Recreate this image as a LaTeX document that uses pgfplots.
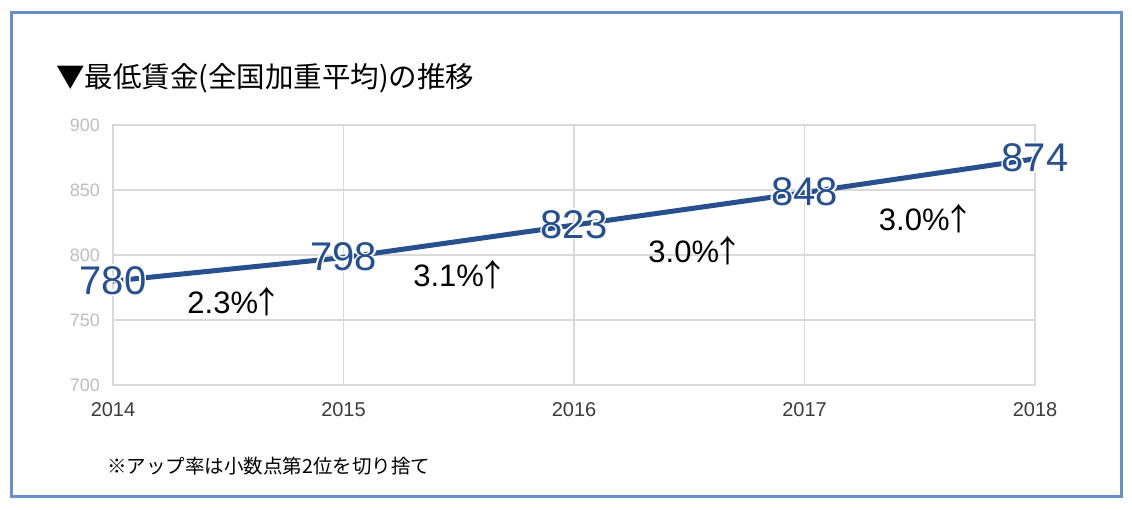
\documentclass[border=0pt]{standalone}
\usepackage{fontspec}
\setmainfont{Liberation Sans}
\newfontfamily\cjk{Noto Sans CJK JP}
\usepackage{pgfplots}
\pgfplotsset{compat=1.18}
\usepackage{contour}
\contourlength{1.5pt}
\definecolor{frameblue}{HTML}{6A8FC7}
\definecolor{lineblue}{HTML}{28508F}
\definecolor{gridgray}{HTML}{D9D9D9}
\definecolor{ytickgray}{HTML}{BDBDBD}
\definecolor{xtickgray}{HTML}{3C3C3C}
\newcommand{\up}{\hspace{-0.2em}{\cjk ↑}}

\begin{document}
\begin{tikzpicture}[x=1pt,y=1pt]
\useasboundingbox (0,0) rectangle (1132,510);
\fill[white] (0,0) rectangle (1132,510);
\draw[frameblue, line width=3pt] (11,13) rectangle (1121,497);
\node[anchor=west, inner sep=0pt, font=\cjk\fontsize{28.5}{28.5}\selectfont] at (56,432) {▼最低賃金(全国加重平均)の推移};
\node[anchor=west, inner sep=0pt, font=\cjk\fontsize{19.5}{19.5}\selectfont] at (107,44) {※アップ率は小数点第2位を切り捨て};

\begin{axis}[
  at={(113pt,125pt)}, anchor=south west,
  scale only axis, width=922pt, height=260pt,
  xmin=2014, xmax=2018, ymin=700, ymax=900,
  xtick={2014,2015,2016,2017,2018},
  ytick={700,750,800,850,900},
  /pgf/number format/assume math mode=true,
  /pgf/number format/1000 sep={},
  grid=major,
  major grid style={draw=gridgray, line width=1.3pt},
  axis line style={draw=gridgray, line width=1.3pt},
  major tick length=0pt,
  yticklabel style={font=\fontsize{18}{18}\selectfont, text=ytickgray, inner sep=0pt, xshift=-13pt},
  xticklabel style={font=\fontsize{20}{20}\selectfont, text=xtickgray, inner sep=0pt, yshift=-17pt},
  clip=false,
]
\addplot[lineblue, line width=5pt, mark=none] coordinates {
  (2014,780) (2015,798) (2016,823) (2017,848) (2018,874)
};
\addplot[draw=none, mark=none, point meta=explicit symbolic,
  nodes near coords={\contour{white}{\pgfplotspointmeta}},
  every node near coord/.append style={anchor=center, inner sep=0pt,
    font=\fontsize{40}{40}\selectfont, text=lineblue}]
  coordinates {
  (2014,780) [780]
  (2015,798) [798]
  (2016,823) [823]
  (2017,848) [848]
  (2018,874) [874]
};
\node[font=\fontsize{31}{31}\selectfont] at (axis cs:2014.53,763.8) {2.3\%\up};
\node[font=\fontsize{31}{31}\selectfont] at (axis cs:2015.51,784.6) {3.1\%\up};
\node[font=\fontsize{31}{31}\selectfont] at (axis cs:2016.53,803.1) {3.0\%\up};
\node[font=\fontsize{31}{31}\selectfont] at (axis cs:2017.53,827.7) {3.0\%\up};
\end{axis}
\end{tikzpicture}
\end{document}
